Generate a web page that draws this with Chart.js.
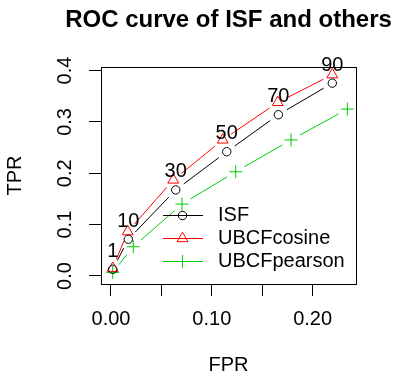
<!DOCTYPE html>
<html>
<head>
<meta charset="utf-8">
<script src="https://cdn.jsdelivr.net/npm/chart.js@4/dist/chart.umd.min.js"></script>
<style>
  body { margin: 0; background: #fff; }
  canvas { display: block; }
</style>
</head>
<body>
<canvas id="roc" width="395" height="373"></canvas>
<script>
const cutoffs = ['1', '10', '30', '50', '70', '90'];
const isfFPR = [0.0017, 0.0172, 0.0642, 0.1148, 0.166, 0.2195];
const isfTPR = [0.013, 0.0715, 0.1676, 0.242, 0.314, 0.3756];
const cosFPR = [0.0017, 0.0166, 0.0618, 0.1108, 0.1654, 0.2195];
const cosTPR = [0.015, 0.0864, 0.187, 0.265, 0.338, 0.392];
const pearFPR = [0.0017, 0.0221, 0.0704, 0.1237, 0.1786, 0.2344];
const pearTPR = [0.007, 0.057, 0.140, 0.203, 0.265, 0.325];

const xTicks = [0, 0.05, 0.10, 0.15, 0.20];
const xTickLabels = ['0.00', '', '0.10', '', '0.20'];
const yTicks = [0, 0.1, 0.2, 0.3, 0.4];
const yTickLabels = ['0.0', '0.1', '0.2', '0.3', '0.4'];

const FONT = "'Liberation Sans', Arial, sans-serif";

function pts(xs, ys) {
  return xs.map((x, i) => ({ x: x, y: ys[i] }));
}

const series = [
  { label: 'ISF', data: pts(isfFPR, isfTPR), color: '#000000', style: 'circle', radius: 4.2 },
  { label: 'UBCFcosine', data: pts(cosFPR, cosTPR), color: '#FF0000', style: 'triangle', radius: 6.3 },
  { label: 'UBCFpearson', data: pts(pearFPR, pearTPR), color: '#00CD00', style: 'cross', radius: 6.5 }
];

// R style type="b": lines with a gap around each point, box, rotated labels, legend
const rPlot = {
  id: 'rPlot',
  beforeDatasetsDraw(chart) {
    const ctx = chart.ctx;
    const gap = 10;
    chart.data.datasets.forEach((ds, di) => {
      const pts = chart.getDatasetMeta(di).data;
      ctx.save();
      ctx.strokeStyle = ds.borderColor;
      ctx.lineWidth = 1;
      for (let i = 0; i < pts.length - 1; i++) {
        const a = pts[i], b = pts[i + 1];
        const dx = b.x - a.x, dy = b.y - a.y;
        const len = Math.sqrt(dx * dx + dy * dy);
        if (len <= gap * 2) continue;
        const ux = dx / len, uy = dy / len;
        ctx.beginPath();
        ctx.moveTo(a.x + ux * gap, a.y + uy * gap);
        ctx.lineTo(b.x - ux * gap, b.y - uy * gap);
        ctx.stroke();
      }
      ctx.restore();
    });
  },
  afterDraw(chart) {
    const ctx = chart.ctx;
    const area = chart.chartArea;
    const xs = chart.scales.x, ys = chart.scales.y;
    ctx.save();
    ctx.strokeStyle = '#000';
    ctx.lineWidth = 1;
    ctx.strokeRect(Math.round(area.left) + 0.5, Math.round(area.top) + 0.5,
      Math.round(area.right - area.left), Math.round(area.bottom - area.top));

    ctx.fillStyle = '#000';
    ctx.textBaseline = 'middle';
    ctx.textAlign = 'center';

    // title
    ctx.font = 'bold 24px ' + FONT;
    ctx.fillText('ROC curve of ISF and others', (area.left + area.right) / 2, 20);

    ctx.font = '20px ' + FONT;
    // x tick labels
    xTicks.forEach((v, i) => {
      if (xTickLabels[i]) ctx.fillText(xTickLabels[i], xs.getPixelForValue(v), 319);
    });
    ctx.fillText('FPR', (area.left + area.right) / 2, 365);

    // y tick labels, vertical like R
    yTicks.forEach((v, i) => {
      ctx.save();
      ctx.translate(65, ys.getPixelForValue(v));
      ctx.rotate(-Math.PI / 2);
      ctx.fillText(yTickLabels[i], 0, 0);
      ctx.restore();
    });
    ctx.save();
    ctx.translate(15, (area.top + area.bottom) / 2);
    ctx.rotate(-Math.PI / 2);
    ctx.fillText('TPR', 0, 0);
    ctx.restore();

    // cutoff labels above the ISF points
    const isfPts = chart.getDatasetMeta(0).data;
    cutoffs.forEach((t, i) => {
      ctx.fillText(t, isfPts[i].x, isfPts[i].y - 18);
    });

    // legend
    chart.data.datasets.forEach((ds, i) => {
      const y = 215.5 + i * 23;
      ctx.strokeStyle = ds.borderColor;
      ctx.beginPath();
      ctx.moveTo(163, y);
      ctx.lineTo(203, y);
      ctx.stroke();
      ctx.fillStyle = 'rgba(0,0,0,0)';
      Chart.helpers.drawPoint(ctx, {
        pointStyle: ds.pointStyle, radius: ds.pointRadius, borderWidth: 1, rotation: 0
      }, 182.5, y);
      ctx.fillStyle = '#000';
      ctx.textAlign = 'left';
      ctx.fillText(ds.label, 218, y);
    });
    ctx.restore();
  }
};

new Chart(document.getElementById('roc'), {
  type: 'scatter',
  data: {
    datasets: series.map(s => ({
      label: s.label,
      data: s.data,
      showLine: false,
      borderColor: s.color,
      backgroundColor: 'rgba(0,0,0,0)',
      pointStyle: s.style,
      pointRadius: s.radius,
      pointBorderWidth: 1
    }))
  },
  options: {
    responsive: false,
    animation: false,
    devicePixelRatio: 1,
    layout: { padding: { top: 67, right: 39, bottom: 0, left: 0 } },
    plugins: { legend: { display: false }, tooltip: { enabled: false } },
    scales: {
      x: {
        type: 'linear',
        min: -0.0099,
        max: 0.243,
        afterBuildTicks: scale => { scale.ticks = xTicks.map(v => ({ value: v })); },
        afterFit: scale => { scale.height = 89; },
        grid: { drawOnChartArea: false, drawTicks: true, tickLength: 12, color: '#000' },
        border: { display: false },
        ticks: { display: false }
      },
      y: {
        type: 'linear',
        min: -0.0156,
        max: 0.407,
        afterBuildTicks: scale => { scale.ticks = yTicks.map(v => ({ value: v })); },
        afterFit: scale => { scale.width = 101; },
        grid: { drawOnChartArea: false, drawTicks: true, tickLength: 12, color: '#000' },
        border: { display: false },
        ticks: { display: false }
      }
    }
  },
  plugins: [rPlot]
});
</script>
</body>
</html>
